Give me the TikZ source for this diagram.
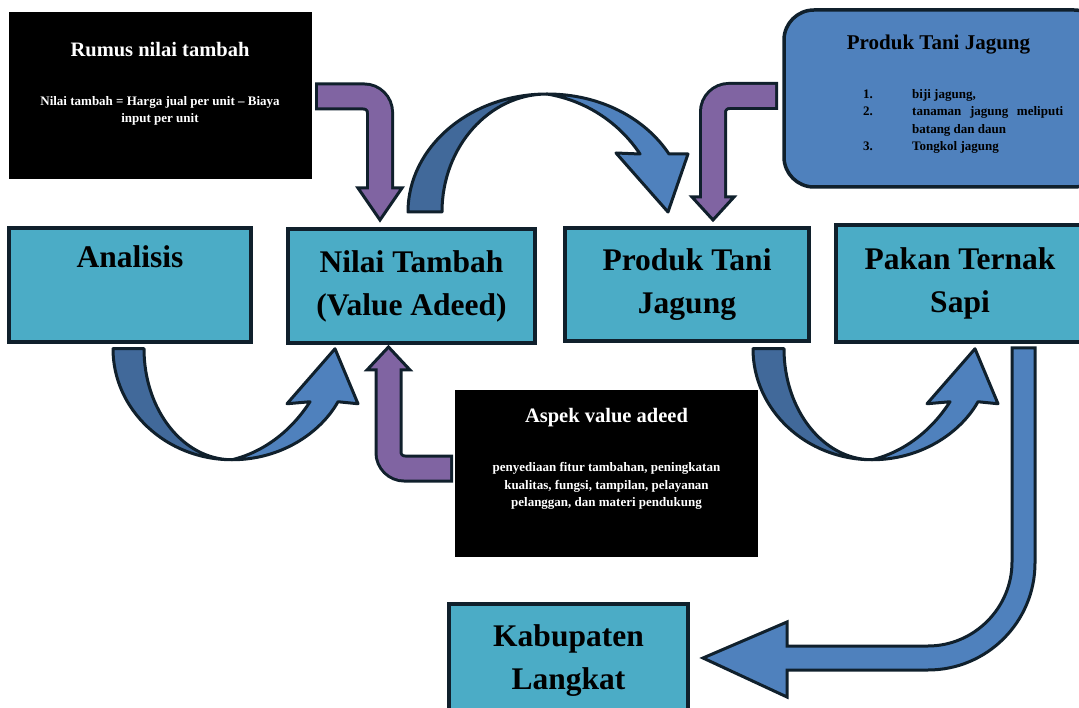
\documentclass[tikz,border=0pt]{standalone}
\usepackage{fontspec}
\setmainfont{Liberation Serif}
\usetikzlibrary{calc}

\definecolor{tealfill}{HTML}{4BACC6}
\definecolor{edgedark}{HTML}{10202C}
\definecolor{bluelight}{HTML}{4F81BD}
\definecolor{bluedark}{HTML}{41699A}
\definecolor{purplefill}{HTML}{8064A2}

\begin{document}
\begin{tikzpicture}
[%%%%%%%%%%%%%%%%%%%%%%%%%%%%%%
x=1pt,y=-1pt,
tealbox/.style={rectangle,draw=edgedark,line width=3.5pt,fill=tealfill,align=center,inner sep=0pt,
  font=\bfseries\fontsize{31.5}{43}\selectfont},
blackbox/.style={rectangle,fill=black,inner sep=0pt,minimum width=303pt,minimum height=167pt},
titletext/.style={text=white,inner sep=0pt,font=\bfseries\fontsize{20.5}{24}\selectfont},
bodytext/.style={text=white,align=center,inner sep=0pt,font=\bfseries\fontsize{13}{17.5}\selectfont},
pedge/.style={draw=edgedark,line width=28pt,rounded corners=16pt},
pshaft/.style={draw=purplefill,line width=22pt,rounded corners=16pt},
phead/.style={fill=purplefill,draw=edgedark,line width=3pt,line join=miter},
bluepart/.style={draw=edgedark,line width=3pt,line join=round},
uarrow/.pic={
  \filldraw[bluepart,fill=bluedark] (0,0) .. controls (0,61) and (53,111) .. (119,111)
    .. controls (70,111) and (31,61) .. (31,0) -- cycle;
  \filldraw[bluepart,fill=bluelight] (119,111) .. controls (167,111) and (207,85) .. (225,53)
    -- (245,55) -- (222,0) -- (174,55) -- (197,53) .. controls (179,81) and (152,103) .. (119,111) -- cycle;
},
]%%%%%%%%%%%%%%%%%%%%%%%%%%%%%%
\useasboundingbox (0,0) rectangle (1079,708);

% info boxes
\node[blackbox] (rumus) at (160,96){};
\node[titletext] (rumusT) at (160,50){Rumus nilai tambah};
\node[bodytext] (rumusB) at (160,111){Nilai tambah = Harga jual per unit – Biaya\\input per unit};

\node[rectangle,draw=edgedark,line width=3.5pt,fill=bluelight,rounded corners=30pt,
  minimum width=320pt,minimum height=177pt] (ptj) at (944,98.5){};
\node[inner sep=0pt,font=\bfseries\fontsize{21}{24}\selectfont] (ptjT) at (938.5,45){Produk Tani Jagung};
\node[anchor=north west,inner sep=0pt,font=\bfseries\fontsize{13}{17.5}\selectfont] (ptjL) at (863,86){%
\begin{tabular}{@{}p{49pt}@{}p{151pt}@{}}
1. & biji jagung,\\
2. & tanaman jagung meliputi batang dan daun\\
3. & Tongkol jagung
\end{tabular}};

\node[blackbox] (aspek) at (606.5,473.5){};
\node[titletext] (aspekT) at (606.5,418){Aspek value adeed};
\node[bodytext] (aspekB) at (606.5,486){penyediaan fitur tambahan, peningkatan\\kualitas, fungsi, tampilan, pelayanan\\pelanggan, dan materi pendukung};

% main boxes
\node[tealbox,minimum width=242pt,minimum height=114pt] (ana) at (130,285){Analisis\\\strut};
\node[tealbox,minimum width=247pt,minimum height=114pt] (nilai) at (411.5,286){Nilai Tambah\\(Value Adeed)};
\node[tealbox,minimum width=244pt,minimum height=113pt] (prod) at (687,284.5){Produk Tani\\Jagung};
\node[tealbox,minimum width=248pt,minimum height=117pt] (pakan) at (960,283.5){Pakan Ternak\\Sapi};
\node[tealbox,minimum width=239pt,minimum height=114pt] (kab) at (568.5,661){Kabupaten\\Langkat};

% blue curved arrows
\pic at ($(ana.south)+(-17,5)$) {uarrow};
\pic at ($(prod.south)+(66,6)$) {uarrow};

\filldraw[bluepart,fill=bluedark] (408,212) .. controls (408,147) and (470,94) .. (547,94)
  .. controls (489,94) and (442,147) .. (442,212) -- cycle;
\filldraw[bluepart,fill=bluelight] (547,94) .. controls (600,94) and (645,118) .. (669,154)
  -- (688,154) -- (668,212) -- (616,153) -- (640,154) .. controls (620,124) and (588,101) .. (547,94) -- cycle;

\filldraw[bluepart,fill=bluelight,line join=miter] (1012,348) -- (1035,348) -- (1035,563)
  .. controls (1035,622) and (987,670) .. (928,670) -- (787,670) -- (787,697) -- (703,658)
  -- (787,622) -- (787,646) -- (928,646) .. controls (974,646) and (1012,608) .. (1012,562) -- cycle;

% purple bent arrows
\coordinate (pa1) at (318,96.5);
\coordinate (pa1c) at (380,96.5);
\coordinate (pa1b) at (380,188);
\coordinate (pa1t) at (380,220);
\draw[pedge,shorten <=-3pt] (pa1) -- (pa1c) -- (pa1b);
\filldraw[phead] ($(pa1b)+(-22,0)$) -- (pa1t) -- ($(pa1b)+(22,0)$) -- cycle;
\draw[pshaft] (pa1) -- (pa1c) -- ($(pa1b)+(0,4)$);

\coordinate (pa2) at (775,96);
\coordinate (pa2c) at (713,96);
\coordinate (pa2b) at (713,197);
\coordinate (pa2t) at (713,220);
\draw[pedge,shorten <=-3pt] (pa2) -- (pa2c) -- (pa2b);
\filldraw[phead] ($(pa2b)+(-21,0)$) -- (pa2t) -- ($(pa2b)+(21,0)$) -- cycle;
\draw[pshaft] (pa2) -- (pa2c) -- ($(pa2b)+(0,4)$);

\coordinate (pa3) at (450,468.5);
\coordinate (pa3c) at (388.5,468.5);
\coordinate (pa3b) at (388.5,370);
\coordinate (pa3t) at (388.5,347);
\draw[pedge,shorten <=-3pt] (pa3) -- (pa3c) -- (pa3b);
\filldraw[phead] ($(pa3b)+(-21.5,0)$) -- (pa3t) -- ($(pa3b)+(21.5,0)$) -- cycle;
\draw[pshaft] (pa3) -- (pa3c) -- ($(pa3b)+(0,-4)$);
\end{tikzpicture}
\end{document}
